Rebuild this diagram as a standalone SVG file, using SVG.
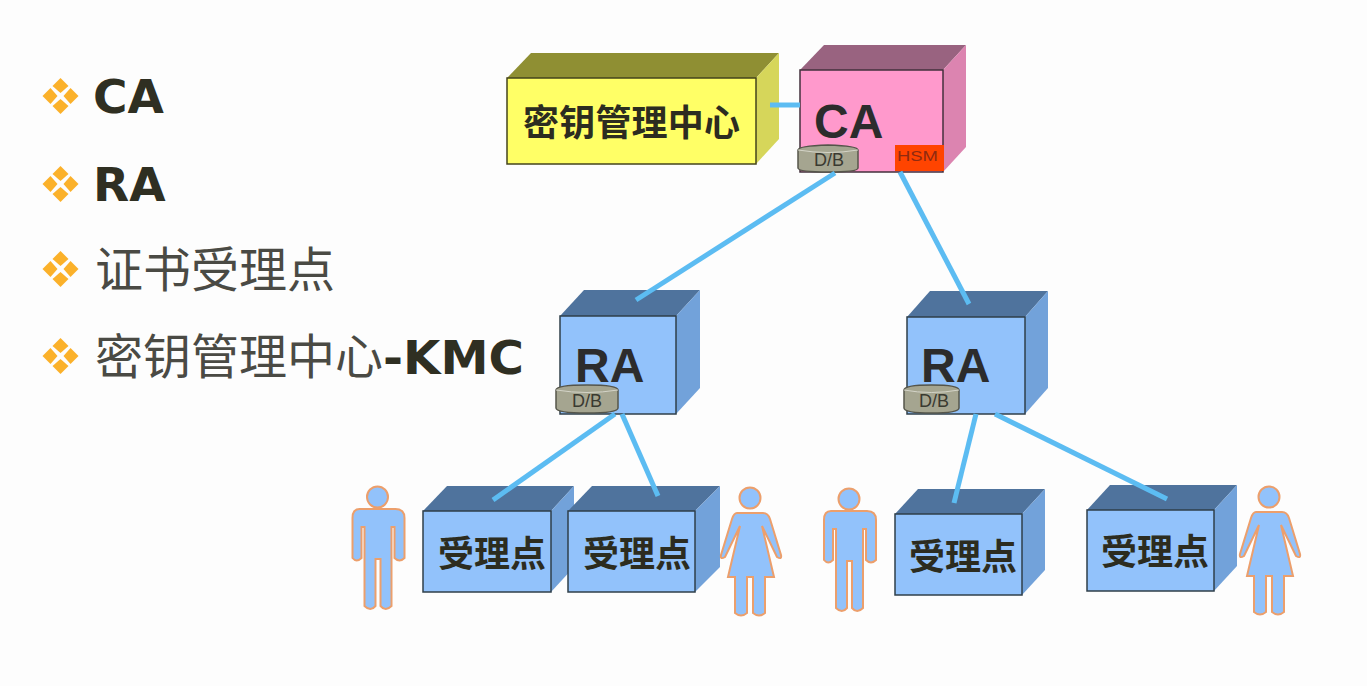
<svg xmlns="http://www.w3.org/2000/svg" width="1367" height="686" viewBox="0 0 1367 686">
<style>
.front{stroke:#2f3f4a;stroke-width:1.5}
.blue .front{fill:#92c2fb}.blue .top{fill:#4f739d}.blue .side{fill:#72a2da}
.yellow .front{fill:#ffff66;stroke:#44441c}.yellow .top{fill:#8f8f33}.yellow .side{fill:#d6d65a}
.pink .front{fill:#ff99cc;stroke:#43303c}.pink .top{fill:#996380}.pink .side{fill:#dc84b0}
.cjk{font-family:"Noto Sans CJK SC","Liberation Sans",sans-serif;fill:#2c2c20}
.lab{font-family:"Liberation Sans",Arial,sans-serif;font-weight:700;font-size:48px;fill:#2c2c2c}
.head{font-family:"DejaVu Sans",sans-serif;font-weight:700;font-size:47px;fill:#2f2f22}
.zh{font-family:"Noto Sans CJK SC",sans-serif;font-size:48px;fill:#4a4a44;font-weight:400}
.box{font-size:36px;font-weight:700}
.db{fill:#a5a590;stroke:#55554a;stroke-width:1.5}
.dbt{font-family:"Liberation Sans",Arial,sans-serif;font-size:18px;fill:#3a3a30;text-anchor:middle}
.person{fill:#92c2fb;stroke:#ec9f6c;stroke-width:2}
.conn{stroke:#5cbcf2;stroke-width:5;fill:none}
.bullet{fill:#fbb12a}
</style>
<defs>
<g id="diamonds"><path class="bullet" d="M0 -18L8 -10L0 -3L-8 -10Z"/><path class="bullet" d="M0 3L8 10L0 18L-8 10Z"/><path class="bullet" d="M-18 0L-10 -8L-3 0L-10 8Z"/><path class="bullet" d="M18 0L10 -8L3 0L10 8Z"/></g>
<g id="man"><circle class="person" cx="0" cy="-115" r="10.500"/><path class="person" d="M-18 -103L18 -103Q27 -103 27 -94L27 -54Q22 -49 17 -54L17 -85L14 -85L14 -6Q8 0 3 -6L3 -53L-2 -53L-2 -6Q-7 0 -13 -6L-13 -85L-16 -85L-16 -54Q-21 -49 -25 -54L-25 -94Q-25 -103 -18 -103Z"/></g>
<g id="woman"><circle class="person" cx="0" cy="-119" r="10.500"/><path class="person" d="M-13 -104L13 -104Q18 -104 20 -98L31 -62Q32 -57 27 -60L12 -91L24 -40L15 -40L15 -4Q9 1 3 -4L3 -40L-3 -40L-3 -4Q-9 1 -15 -4L-15 -40L-22 -40L-10 -91L-25 -60Q-30 -57 -29 -62L-18 -98Q-16 -104 -13 -104Z"/></g>
</defs>
<rect width="1367" height="686" fill="#fdfdfd"/>

<g id="bullets">
<use href="#diamonds" x="60.500" y="96"/><text class="head" x="93" y="113">CA</text>
<use href="#diamonds" x="60.500" y="184"/><text class="head" x="93" y="201">RA</text>
<use href="#diamonds" x="60.500" y="269"/><text class="zh" x="95" y="287">证书受理点</text>
<use href="#diamonds" x="60.500" y="356"/><text class="zh" x="95" y="374">密钥管理中心</text><text class="head" x="383" y="374" textLength="141" lengthAdjust="spacingAndGlyphs">-KMC</text>
</g>

<g id="node-kmc" class="yellow">
<polygon class="top" points="507,78 531,53 779,53 756,78"/><polygon class="side" points="756,78 779,53 779,139 756,164"/><rect class="front" x="507" y="78" width="249" height="86"/>
<text class="cjk box" x="523" y="136" textLength="217">密钥管理中心</text>
</g>
<g id="node-ca" class="pink">
<polygon class="top" points="800,70 824,45 966,45 943,70"/><polygon class="side" points="943,70 966,45 966,147 943,172"/><rect class="front" x="800" y="70" width="143" height="102"/>
<text class="lab" x="814" y="138">CA</text>
<path class="db" d="M798 150Q798 146 828 145Q858 146 858 150L858 168Q858 172 828 172Q798 172 798 168Z"/><path d="M798 150Q828 155 858 150" fill="none" stroke="#d4d4c8"/><text class="dbt" x="829" y="166">D/B</text>
<rect x="895" y="145" width="49" height="26" fill="#ff4400"/><text x="897" y="161" font-family="Liberation Sans, Arial, sans-serif" font-size="15" fill="#8f2a10" textLength="41" lengthAdjust="spacingAndGlyphs">HSM</text>
</g>
<g id="node-ra1" class="blue">
<polygon class="top" points="560,316 584,290 700,290 676,316"/><polygon class="side" points="676,316 700,290 700,388 676,414"/><rect class="front" x="560" y="316" width="116" height="98"/>
<text class="lab" x="575" y="382">RA</text>
<path class="db" d="M556 390Q556 385 587 385Q618 385 618 390L618 408Q618 413 587 413Q556 413 556 408Z"/><path d="M556 390Q587 395 618 390" fill="none" stroke="#d4d4c8"/><text class="dbt" x="587" y="407">D/B</text>
</g>
<g id="node-ra2" class="blue">
<polygon class="top" points="907,317 930,291 1048,291 1025,317"/><polygon class="side" points="1025,317 1048,291 1048,388 1025,414"/><rect class="front" x="907" y="317" width="118" height="97"/>
<text class="lab" x="921" y="382">RA</text>
<path class="db" d="M904 390Q904 385 931.500 385Q959 385 959 390L959 408Q959 413 931.500 413Q904 413 904 408Z"/><path d="M904 390Q931 395 959 390" fill="none" stroke="#d4d4c8"/><text class="dbt" x="934" y="407">D/B</text>
</g>
<g id="node-p1" class="blue">
<polygon class="top" points="423,511 447,486 574,486 551,511"/><polygon class="side" points="551,511 574,486 574,567 551,592"/><rect class="front" x="423" y="511" width="128" height="81"/>
<text class="cjk box" x="438" y="567">受理点</text>
</g>
<g id="node-p2" class="blue">
<polygon class="top" points="568,511 592,486 720,486 695,511"/><polygon class="side" points="695,511 720,486 720,567 695,592"/><rect class="front" x="568" y="511" width="127" height="81"/>
<text class="cjk box" x="583" y="567">受理点</text>
</g>
<g id="node-p3" class="blue">
<polygon class="top" points="895,514 918,489 1045,489 1022,514"/><polygon class="side" points="1022,514 1045,489 1045,570 1022,595"/><rect class="front" x="895" y="514" width="127" height="81"/>
<text class="cjk box" x="909" y="570">受理点</text>
</g>
<g id="node-p4" class="blue">
<polygon class="top" points="1087,510 1110,485 1237,485 1214,510"/><polygon class="side" points="1214,510 1237,485 1237,566 1214,591"/><rect class="front" x="1087" y="510" width="127" height="81"/>
<text class="cjk box" x="1101" y="565">受理点</text>
</g>
<g id="person-1"><use href="#man" x="377.500" y="612"/></g>
<g id="person-2"><use href="#woman" x="750" y="617"/></g>
<g id="person-3"><use href="#man" x="849" y="614"/></g>
<g id="person-4"><use href="#woman" x="1269" y="616"/></g>

<g id="connectors" class="conn">
<line x1="770" y1="105" x2="800" y2="105"/>
<line x1="835" y1="173" x2="636" y2="300"/>
<line x1="900" y1="172" x2="969" y2="304"/>
<line x1="615" y1="414" x2="493" y2="500"/>
<line x1="622" y1="414" x2="658" y2="496"/>
<line x1="976" y1="414" x2="954" y2="503"/>
<line x1="995" y1="414" x2="1167" y2="499"/>
</g>
</svg>
